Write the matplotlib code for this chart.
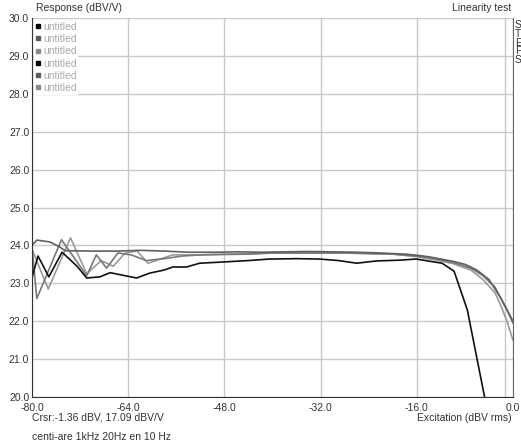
import matplotlib

matplotlib.use("Agg")

import matplotlib.pyplot as plt
from matplotlib.lines import Line2D

plt.rcParams["font.family"] = ["Liberation Sans", "DejaVu Sans"]

# excitation (dBV rms) / response (dBV/V) per trace
x_black = [-80, -79, -77.2, -75.0, -72.5, -70.9, -68.7, -67, -64.5, -62.6, -60.4, -58, -56.6,
           -54.3, -52.1, -48.5, -44, -40.5, -36, -32.2, -29, -26, -22.7, -18.9, -16.1, -11.8,
           -9.8, -7.6, -4.6]
y_black = [23.15, 23.72, 23.17, 23.82, 23.45, 23.14, 23.17, 23.28, 23.2, 23.14, 23.27, 23.35,
           23.43, 23.43, 23.53, 23.56, 23.6, 23.64, 23.65, 23.64, 23.6, 23.53, 23.59, 23.61,
           23.64, 23.53, 23.32, 22.3, 19.9]

x_dark = [-80, -79.2, -77, -75.4, -74.5, -70, -66, -62, -58, -54, -50, -46, -42, -38, -34,
          -30, -26, -22, -18, -16, -14, -12, -10, -8, -6, -4, -2, -1, 0]
y_dark = [24.0, 24.14, 24.09, 23.96, 23.86, 23.85, 23.85, 23.87, 23.85, 23.82, 23.82, 23.83,
          23.82, 23.83, 23.84, 23.83, 23.82, 23.8, 23.77, 23.74, 23.7, 23.64, 23.58, 23.5,
          23.35, 23.1, 22.6, 22.3, 22.0]

x_mid = [-80, -79.2, -75.1, -70.9, -69.3, -67.6, -65.7, -63.5, -61, -58, -55, -52, -48, -44,
         -40, -36, -32, -28, -24, -20, -16, -13, -10, -7, -5, -3, -2, -1, 0]
y_mid = [23.95, 22.6, 24.15, 23.2, 23.75, 23.4, 23.8, 23.75, 23.6, 23.65, 23.72, 23.75, 23.76,
         23.77, 23.8, 23.8, 23.8, 23.8, 23.78, 23.77, 23.72, 23.65, 23.55, 23.4, 23.2, 22.9,
         22.6, 22.3, 21.95]

x_light = [-80, -77.3, -73.6, -70.9, -68.5, -66.5, -64.5, -62.5, -60.7, -56.6, -52, -48, -44,
           -40, -36, -32, -28, -24, -20, -16, -13, -10, -7, -5, -3, -2, -1, 0]
y_light = [23.9, 22.85, 24.2, 23.25, 23.6, 23.45, 23.8, 23.85, 23.53, 23.75, 23.75, 23.77,
           23.78, 23.8, 23.8, 23.8, 23.8, 23.79, 23.77, 23.7, 23.62, 23.52, 23.35, 23.1, 22.75,
           22.4, 22.0, 21.5]

legend_labels = ["untitled"] * 6
legend_colors = ["#000000", "#5a5a5a", "#8a8a8a", "#000000", "#5a5a5a", "#8a8a8a"]

x_ticks = [-80, -64, -48, -32, -16, 0]
y_ticks = [20, 21, 22, 23, 24, 25, 26, 27, 28, 29, 30]
cursor_x = -1.36

fs = 7.5
fig = plt.figure(figsize=(5.21, 4.47), dpi=100)
ax = fig.add_axes([32 / 521, 1 - 397 / 447, 481 / 521, 379 / 447])

# traces
ax.plot(x_light, y_light, color="#9a9a9a", lw=1.2)
ax.plot(x_mid, y_mid, color="#787878", lw=1.2)
ax.plot(x_dark, y_dark, color="#606060", lw=1.2)
ax.plot(x_black, y_black, color="#111111", lw=1.2)

ax.axvline(cursor_x, color="#c8c8c8", lw=1.0, zorder=0)

ax.set_xlim(-80, 0)
ax.set_ylim(20, 30)
ax.set_xticks(x_ticks)
ax.set_xticklabels(["%.1f" % v for v in x_ticks])
ax.set_yticks(y_ticks)
ax.set_yticklabels(["%.1f" % v for v in y_ticks])
ax.tick_params(length=0, labelsize=fs, colors="#333333")
ax.tick_params(axis="x", pad=4)
ax.tick_params(axis="y", pad=2)
ax.grid(color="#c8c8c8", lw=1.0)
ax.set_axisbelow(True)

for side in ["left", "bottom"]:
    ax.spines[side].set_color("#333333")
ax.spines["right"].set_color("#666666")
ax.spines["top"].set_visible(False)

# legend
handles = [Line2D([], [], ls="none", marker="s", ms=3, color=c) for c in legend_colors]
leg = ax.legend(handles, legend_labels, loc="upper left", fontsize=fs, labelcolor="#aaaaaa",
                handlelength=0.4, handletextpad=0.3, labelspacing=0.22, borderpad=0.15,
                borderaxespad=0.2, frameon=True, fancybox=False)
leg.get_frame().set_edgecolor("none")
leg.get_frame().set_facecolor("white")
leg.get_frame().set_alpha(1)

# texts around the plot
fig.text(36 / 521, 1 - 8 / 447, "Response (dBV/V)", fontsize=fs, color="#333333", va="center")
fig.text(511 / 521, 1 - 8 / 447, "Linearity test", fontsize=fs, color="#333333",
         va="center", ha="right")
fig.text(32 / 521, 1 - 418 / 447, "Crsr:-1.36 dBV, 17.09 dBV/V", fontsize=fs, color="#333333",
         va="center")
fig.text(512 / 521, 1 - 418 / 447, "Excitation (dBV rms)", fontsize=fs, color="#333333",
         va="center", ha="right")
fig.text(32 / 521, 1 - 437 / 447, "centi-are 1kHz 20Hz en 10 Hz", fontsize=fs,
         color="#333333", va="center")
fig.text(515 / 521, 1 - 20 / 447, "S\nT\nE\nF\nS", fontsize=fs, color="#333333", va="top",
         linespacing=0.85)

plt.savefig("out.png", dpi=100)
